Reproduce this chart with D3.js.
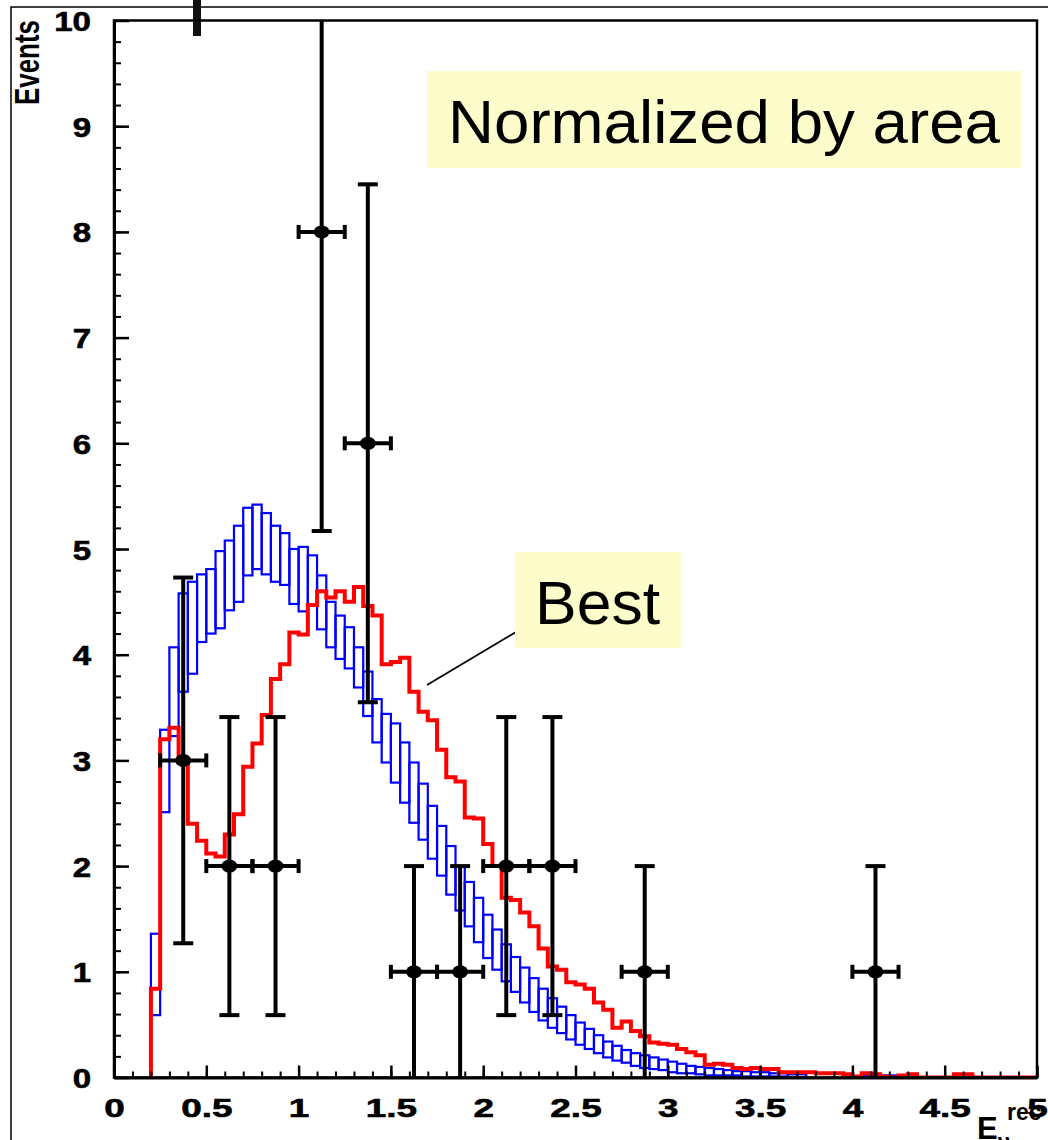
<!DOCTYPE html>
<html><head><meta charset="utf-8">
<script src="https://cdn.jsdelivr.net/npm/d3@7"></script>
<style>html,body{margin:0;padding:0;background:#fff;}svg{display:block;}</style>
</head><body>
<script>
// ---------------- data ----------------
const binStart = 0.20;   // first filled bin low edge
const binWidth = 0.05;
// red "Best" histogram, bins from 0.20 in steps of 0.05
const redValues = [0.84,3.20,3.31,2.98,2.40,2.24,2.12,2.09,2.30,2.49,
  2.94,3.16,3.43,3.77,3.91,4.21,4.19,4.47,4.60,4.54,
  4.60,4.50,4.64,4.46,4.37,3.91,3.93,3.97,3.65,3.46,
  3.38,3.10,2.84,2.80,2.46,2.45,2.21,2.00,1.70,1.68,
  1.56,1.43,1.22,1.05,1.02,0.90,0.88,0.84,0.71,0.64,
  0.47,0.53,0.44,0.39,0.33,0.32,0.31,0.27,0.24,0.21,
  0.12,0.13,0.12,0.09,0.08,0.09,0.08,0.08,0.05,0.05,
  0.05,0.05,0.04,0.04,0.04,0.03,0.01,0.04,0.03,0.01,
  0,0.02,0.03,0,0,0,0,0.03,0.03,0,0,0,0,0,0,0];
// blue band histogram (low / high edge of each box)
const blueLow = [0.59,2.51,3.23,3.65,3.82,4.12,4.20,4.25,4.42,4.50,
  4.75,4.81,4.76,4.69,4.66,4.48,4.41,4.47,4.24,4.07,
  3.96,3.87,3.69,3.42,3.17,2.98,2.79,2.60,2.41,2.25,
  2.07,1.91,1.73,1.58,1.43,1.28,1.13,1.02,0.91,0.81,
  0.71,0.62,0.54,0.47,0.42,0.36,0.31,0.27,0.23,0.19,
  0.16,0.14,0.11,0.09,0.08,0.07,0.05,0.04,0.04,0.03,
  0.02,0.02,0.02,0.02,0.01,0.01,0.01,0.01,0.01,0,
  0,0,0,0,0,0,0,0,0,0,0];
const blueHigh = [1.36,3.29,4.07,4.58,4.69,4.76,4.81,4.98,5.08,5.22,
  5.39,5.42,5.34,5.22,5.15,5.00,5.02,4.94,4.75,4.50,
  4.37,4.26,4.07,3.84,3.58,3.44,3.35,3.17,2.98,2.78,
  2.57,2.38,2.19,2.00,1.85,1.70,1.54,1.40,1.26,1.14,
  1.04,0.94,0.84,0.75,0.67,0.59,0.52,0.46,0.40,0.34,
  0.30,0.26,0.23,0.21,0.19,0.17,0.15,0.13,0.11,0.10,
  0.09,0.08,0.07,0.06,0.06,0.05,0.05,0.04,0.04,0.03,
  0.03,0,0,0,0,0,0,0.02,0.02,0.02,0.02];
// data points
const dataE    = [0.375,0.625,0.875,1.125,1.375,1.625,1.875,2.125,2.375,2.875,4.125];
const dataN    = [3,2,2,8,6,1,1,2,2,1,1];
const dataErrLo= [1.73,1.41,1.41,2.83,2.45,1,1,1.41,1.41,1,1];
const dataErrHi= [1.73,1.41,1.41,2.83,2.45,1,1,1.41,1.41,1,1];
const dataXErr = 0.125;
const xTicks = [0,0.5,1,1.5,2,2.5,3,3.5,4,4.5,5];
const xTickLabels = ["0","0.5","1","1.5","2","2.5","3","3.5","4","4.5","5"];
const yTicks = [0,1,2,3,4,5,6,7,8,9,10];

// ---------------- drawing ----------------
const W = 1048, H = 1140;
const svg = d3.select("body").append("svg").attr("width", W).attr("height", H);
const x = d3.scaleLinear().domain([0,5]).range([114,1037]);
const y = d3.scaleLinear().domain([0,10]).range([1077.5,20.5]);

// outer canvas frame
svg.append("rect").attr("x",11).attr("y",7).attr("width",1200).attr("height",1300)
  .attr("fill","none").attr("stroke","#000").attr("stroke-width",1.5);

const plot = svg.append("g");
svg.append("clipPath").attr("id","pc").append("rect")
  .attr("x",x(0)).attr("y",y(10)).attr("width",x(5)-x(0)).attr("height",y(0)-y(10));

// blue boxes
const blueBins = blueLow.map((lo,i)=>({e0:binStart+i*binWidth, e1:binStart+(i+1)*binWidth, lo, hi:blueHigh[i]}))
  .filter(d=>d.hi>0);
plot.append("g").attr("clip-path","url(#pc)").selectAll("rect").data(blueBins).join("rect")
  .attr("x",d=>x(d.e0)).attr("width",d=>x(d.e1)-x(d.e0))
  .attr("y",d=>y(d.hi)).attr("height",d=>Math.max(0.5,y(d.lo)-y(d.hi)))
  .attr("fill","none").attr("stroke","#0000ff").attr("stroke-width",2.2);

// red step line
let p = d3.path();
p.moveTo(x(binStart), y(0));
redValues.forEach((v,i)=>{
  const e0 = binStart+i*binWidth, e1 = e0+binWidth;
  p.lineTo(x(e0), y(v)); p.lineTo(x(e1), y(v));
});
p.lineTo(x(binStart+redValues.length*binWidth), y(0));
plot.append("path").attr("clip-path","url(#pc)").attr("d",p.toString())
  .attr("fill","none").attr("stroke","#ff0000").attr("stroke-width",4).attr("stroke-linejoin","miter");

// data points
const pts = dataE.map((e,i)=>({e, n:dataN[i], lo:dataErrLo[i], hi:dataErrHi[i]}));
const gp = plot.append("g").attr("stroke","#000").attr("stroke-width",4);
pts.forEach(d=>{
  const top = Math.min(10, d.n+d.hi), bot = d.n-d.lo;
  gp.append("line").attr("x1",x(d.e)).attr("x2",x(d.e)).attr("y1",y(top)).attr("y2",y(bot));
  if (d.n+d.hi <= 10) gp.append("line").attr("x1",x(d.e)-10).attr("x2",x(d.e)+10).attr("y1",y(top)).attr("y2",y(top));
  if (bot > 0) gp.append("line").attr("x1",x(d.e)-10).attr("x2",x(d.e)+10).attr("y1",y(bot)).attr("y2",y(bot));
  gp.append("line").attr("x1",x(d.e-dataXErr)).attr("x2",x(d.e+dataXErr)).attr("y1",y(d.n)).attr("y2",y(d.n));
  [d.e-dataXErr,d.e+dataXErr].forEach(ex=>gp.append("line").attr("x1",x(ex)).attr("x2",x(ex))
     .attr("y1",y(d.n)-7).attr("y2",y(d.n)+7));
  gp.append("ellipse").attr("cx",x(d.e)).attr("cy",y(d.n)).attr("rx",8).attr("ry",6.5).attr("fill","#000").attr("stroke","none");
});

// odd thick bar at top
svg.append("rect").attr("x",193).attr("y",0).attr("width",8).attr("height",36).attr("fill","#111");

// frame
svg.append("rect").attr("x",x(0)).attr("y",y(10)).attr("width",x(5)-x(0)).attr("height",y(0)-y(10))
  .attr("fill","none").attr("stroke","#000").attr("stroke-width",2.5);

// axes
const font = "'Liberation Sans', Arial, Helvetica, sans-serif";
const yMinor = d3.range(0,10.01,0.2);
svg.append("g").attr("transform",`translate(${x(0)},0)`)
  .call(d3.axisLeft(y).tickValues(yMinor).tickSizeInner(-7).tickSizeOuter(0).tickFormat(""))
  .call(g=>g.select(".domain").remove()).selectAll("line").attr("stroke-width",2);
const yAx = svg.append("g").attr("transform",`translate(${x(0)},0)`)
  .call(d3.axisLeft(y).tickValues(yTicks).tickSizeInner(-15).tickSizeOuter(0).tickPadding(23).tickFormat(d3.format("d")));
yAx.select(".domain").attr("stroke-width",3);
yAx.selectAll("line").attr("stroke-width",2.5);
yAx.selectAll("text").attr("font-family",font).attr("font-weight","bold").attr("font-size",28)
  .attr("fill","#000").attr("stroke","#000").attr("stroke-width",0.6).attr("x",null).attr("dy","0.36em")
  .attr("transform","translate(-23,0) scale(1.18,1)");

const xMinor = d3.range(0,5.001,0.1);
svg.append("g").attr("transform",`translate(0,${y(0)})`)
  .call(d3.axisBottom(x).tickValues(xMinor).tickSizeInner(-6).tickSizeOuter(0).tickFormat(""))
  .call(g=>g.select(".domain").remove()).selectAll("line").attr("stroke-width",2);
const xAx = svg.append("g").attr("transform",`translate(0,${y(0)})`)
  .call(d3.axisBottom(x).tickValues(xTicks).tickSizeInner(-12).tickSizeOuter(0).tickPadding(21)
    .tickFormat((d,i)=>xTickLabels[i]));
xAx.select(".domain").attr("stroke-width",3);
xAx.selectAll("line").attr("stroke-width",2.5);
xAx.selectAll("text").attr("font-family",font).attr("font-weight","bold").attr("font-size",26)
  .attr("fill","#000").attr("stroke","#000").attr("stroke-width",0.6).attr("transform","scale(1.42,1)");

// axis titles
svg.append("text").attr("transform","translate(39,20) rotate(-90)").attr("text-anchor","end")
  .attr("font-family",font).attr("font-weight","bold").attr("font-size",35)
  .attr("textLength",85).attr("lengthAdjust","spacingAndGlyphs").text("Events");
const xt = svg.append("text").attr("x",977).attr("y",1139).attr("font-family",font).attr("font-weight","bold").attr("font-size",31);
xt.append("tspan").text("E");
xt.append("tspan").attr("font-size",22).attr("dy",10).text("ν");
xt.append("tspan").attr("font-size",23).attr("dx",-3).attr("dy",-29).text("rec");

// annotation boxes
svg.append("rect").attr("x",427).attr("y",71).attr("width",594).attr("height",97).attr("fill","#fdfdcb");
svg.append("text").attr("x",448).attr("y",143).attr("font-family",font).attr("font-size",62)
  .attr("textLength",552).attr("lengthAdjust","spacingAndGlyphs")
  .attr("fill","#000").text("Normalized by area");
svg.append("line").attr("x1",427).attr("y1",685).attr("x2",516).attr("y2",632).attr("stroke","#000").attr("stroke-width",1.8);
svg.append("rect").attr("x",515).attr("y",552).attr("width",166).attr("height",96).attr("fill","#fdfdcb");
svg.append("text").attr("x",535).attr("y",624).attr("font-family",font).attr("font-size",62)
  .attr("textLength",125).attr("lengthAdjust","spacingAndGlyphs")
  .attr("fill","#000").text("Best");
</script>
</body></html>
